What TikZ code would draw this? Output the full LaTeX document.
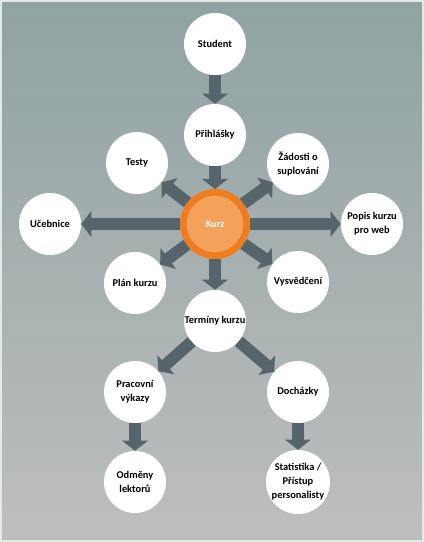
\documentclass[tikz,border=0pt]{standalone}
\usepackage{fontspec}
\setmainfont{Carlito}
\usetikzlibrary{arrows.meta,positioning}
\definecolor{slate}{HTML}{56656B}
\definecolor{bgtop}{HTML}{8FA3A2}
\definecolor{bgbottom}{HTML}{BEBEBE}
\definecolor{ring}{HTML}{EE7D22}
\definecolor{core}{HTML}{F4A15A}
\begin{document}
\begin{tikzpicture}[on grid,>={Triangle[width=19pt,length=7.5pt]},
 c/.style={circle,fill=white,minimum size=46.5pt,inner sep=0pt,align=center,font=\fontsize{7.8}{10.5}\selectfont\bfseries},
 hub/.style={circle,draw=ring,fill=core,line width=5pt,minimum size=47.5pt,inner sep=0pt,text=white,font=\fontsize{7.8}{10.5}\selectfont\bfseries},
 link/.style={draw=slate,line width=9pt,->}]
\useasboundingbox (-161.25pt,168pt) rectangle (156.75pt,-238.5pt);
\shade[top color=bgtop,bottom color=bgbottom,draw=white!75!bgtop,line width=1.5pt] (-160.5pt,167.25pt) rectangle (156pt,-237.75pt);
\node[hub] (kurz) at (0,0) {Kurz};
\node[c,above=66.75pt of kurz] (prihlasky) {Přihlášky};
\node[c,above=68.25pt of prihlasky] (student) {Student};
\node[c,above left=45.75pt and 58.5pt of kurz] (testy) {Testy};
\node[c,above right=45pt and 62.25pt of kurz] (zadosti) {Žádosti o\\suplování};
\node[c,left=123.75pt of kurz] (ucebnice) {Učebnice};
\node[c,right=117.75pt of kurz] (popis) {Popis kurzu\\pro web};
\node[c,below left=44.25pt and 60pt of kurz] (plan) {Plán kurzu};
\node[c,below right=43.5pt and 62.25pt of kurz] (vysvedceni) {Vysvědčení};
\node[c,below=72.75pt of kurz] (terminy) {Termíny kurzu};
\node[c,below left=53.25pt and 60pt of terminy] (pracovni) {Pracovní\\výkazy};
\node[c,below right=53.25pt and 62.25pt of terminy] (dochazky) {Docházky};
\node[c,below=67.5pt of pracovni] (odmeny) {Odměny\\lektorů};
\node[c,below=67.5pt of dochazky] (statistika) {Statistika /\\Přístup\\personalisty};
\draw[link] (student)--(prihlasky);
\draw[link] (prihlasky)--(kurz);
\draw[link] (kurz)--(testy);
\draw[link] (kurz)--(zadosti);
\draw[link] (kurz)--(ucebnice);
\draw[link] (kurz)--(popis);
\draw[link] (kurz)--(plan);
\draw[link] (kurz)--(vysvedceni);
\draw[link] (kurz)--(terminy);
\draw[link] (terminy)--(pracovni);
\draw[link] (terminy)--(dochazky);
\draw[link] (pracovni)--(odmeny);
\draw[link] (dochazky)--(statistika);
\end{tikzpicture}
\end{document}
